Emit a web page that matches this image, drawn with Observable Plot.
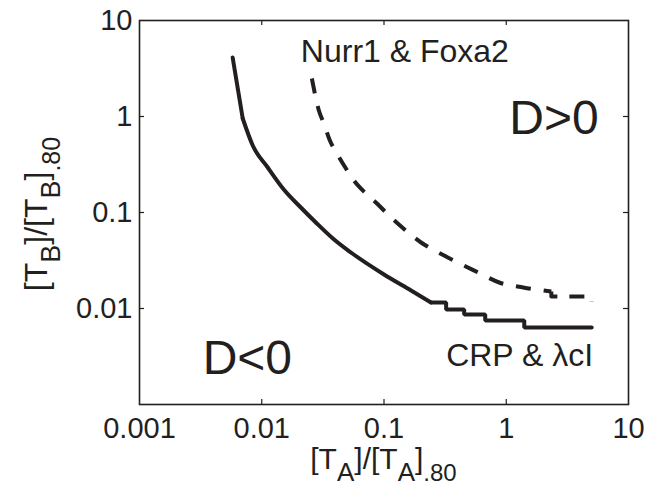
<!DOCTYPE html>
<html><head><meta charset="utf-8">
<script src="https://cdn.jsdelivr.net/npm/d3@7"></script>
<script src="https://cdn.jsdelivr.net/npm/@observablehq/plot@0.6"></script>
<style>html,body{margin:0;padding:0;background:#fff}#chart{width:657px;height:488px}</style>
</head><body><div id="chart"></div>
<script>
// ---- data ----
const xTicks = [0.001, 0.01, 0.1, 1, 10];
const yTicks = [10, 1, 0.1, 0.01];
const innerXTicks = [0.01, 0.1, 1];
const innerYTicks = [1, 0.1, 0.01];

// solid curve: CRP & λcI
const crpX = [0.00578, 0.00699, 0.00844, 0.0112, 0.01515, 0.02088, 0.02771, 0.03819, 0.05363, 0.1, 0.1665, 0.2427, 0.3223, 0.3223, 0.4526, 0.4526, 0.6729, 0.6729, 1.404, 1.404, 5.0];
const crpY = [4.118, 0.953, 0.4988, 0.2942, 0.1736, 0.1127, 0.0787, 0.0536, 0.0383, 0.0226, 0.0154, 0.01155, 0.01155, 0.00976, 0.00976, 0.00866, 0.00866, 0.0075, 0.0075, 0.00634, 0.00634];

// dashed curve: Nurr1 & Foxa2
const nurrX = [0.0257, 0.02933, 0.03223, 0.03609, 0.04119, 0.04882, 0.05677, 0.0712, 0.08762, 0.1099, 0.1352, 0.201, 0.3103, 0.5896, 0.8762, 1.378, 2.338, 2.338, 5.0, 5.0];
const nurrY = [2.488, 1.155, 0.8455, 0.5623, 0.4117, 0.2873, 0.2154, 0.1577, 0.1241, 0.093, 0.0732, 0.0487, 0.0356, 0.0237, 0.01866, 0.01655, 0.01503, 0.01334, 0.01334, 0.01183];

// annotations
const labelText = ["Nurr1 & Foxa2", "D>0", "D<0", "CRP & λcI"];
const labelX = [0.02088, 1.058, 0.003284, 0.3223];
const labelY = [3.74, 0.665, 0.002054, 0.002548];
const labelSize = [32, 48, 48, 32];

// ---- build ----
const W = 657, H = 488, mL = 139, mR = 29, mT = 20, mB = 84;
const plotW = W - mL - mR, plotH = H - mT - mB;
const ink = "#231f20";
const crp = crpX.map((x, i) => ({x, y: crpY[i]}));
const nurr = nurrX.map((x, i) => ({x, y: nurrY[i]}));
const labels = labelText.map((t, i) => ({t, x: labelX[i], y: labelY[i], s: labelSize[i]}));
// the solid curve: straight top segment, smooth middle, stair-stepped tail
const crpTop = crp.slice(0, 2), crpMid = crp.slice(1, 12), crpTail = crp.slice(11);
const nurrSmooth = nurr.slice(0, 17), nurrTail = nurr.slice(16);

const plot = Plot.plot({
  width: W, height: H,
  marginLeft: mL, marginRight: mR, marginTop: mT, marginBottom: mB,
  style: {fontFamily: "'Liberation Sans', Arial, Helvetica, sans-serif", background: "#fff", color: ink, overflow: "visible"},
  x: {type: "log", domain: [0.001, 10]},
  y: {type: "log", domain: [0.001, 10]},
  marks: [
    Plot.tickX(innerXTicks, {x: d => d, insetTop: plotH - 5, stroke: ink, strokeWidth: 1.2}),
    Plot.tickX(innerXTicks, {x: d => d, insetBottom: plotH - 5, stroke: ink, strokeWidth: 1.2}),
    Plot.tickY(innerYTicks, {y: d => d, insetRight: plotW - 5, stroke: ink, strokeWidth: 1.2}),
    Plot.tickY(innerYTicks, {y: d => d, insetLeft: plotW - 5, stroke: ink, strokeWidth: 1.2}),
    Plot.axisX({ticks: xTicks, tickSize: 0, tickPadding: 13, fontSize: 29, tickFormat: d => String(d), label: null}),
    Plot.axisY({ticks: yTicks, tickSize: 0, tickPadding: 7, fontSize: 29, tickFormat: d => String(d), label: null}),
    Plot.line(crpTop, {x: "x", y: "y", stroke: ink, strokeWidth: 4, strokeLinecap: "round"}),
    Plot.line(crpMid, {x: "x", y: "y", stroke: ink, strokeWidth: 4, curve: "monotone-x", strokeLinecap: "round"}),
    Plot.line(crpTail, {x: "x", y: "y", stroke: ink, strokeWidth: 4, strokeLinejoin: "miter"}),
    Plot.line(nurrSmooth, {x: "x", y: "y", stroke: ink, strokeWidth: 4, curve: "monotone-x", strokeDasharray: "15,13", strokeLinecap: "butt"}),
    Plot.line(nurrTail, {x: "x", y: "y", stroke: ink, strokeWidth: 4, strokeDasharray: "15,12", strokeDashoffset: 4, strokeLinecap: "butt"}),
    Plot.text(labels, {x: "x", y: "y", text: "t", fontSize: "s", textAnchor: "start", lineAnchor: "bottom", fill: ink}),
    Plot.frame({stroke: ink, strokeWidth: 1.6})
  ]
});
document.getElementById("chart").appendChild(plot);

// axis titles with subscripts
const svg = d3.select(plot);
const xl = svg.append("text")
  .attr("x", mL + plotW / 2).attr("y", 469)
  .attr("text-anchor", "middle").attr("font-size", 30).attr("fill", ink)
  .attr("font-family", "'Liberation Sans', Arial, sans-serif");
xl.append("tspan").text("[T");
xl.append("tspan").attr("font-size", 26).attr("dy", 12).text("A");
xl.append("tspan").attr("dy", -12).text("]/[T");
xl.append("tspan").attr("font-size", 26).attr("dy", 12).text("A");
xl.append("tspan").attr("dy", -12).text("]");
xl.append("tspan").attr("font-size", 24).attr("dy", 12).text(".80");

const yl = svg.append("text")
  .attr("transform", `translate(47,${mT + plotH / 2 + 2}) rotate(-90)`)
  .attr("text-anchor", "middle").attr("font-size", 32).attr("fill", ink)
  .attr("font-family", "'Liberation Sans', Arial, sans-serif");
yl.append("tspan").text("[T");
yl.append("tspan").attr("font-size", 27).attr("dy", 13).text("B");
yl.append("tspan").attr("dy", -13).text("]/[T");
yl.append("tspan").attr("font-size", 27).attr("dy", 13).text("B");
yl.append("tspan").attr("dy", -13).text("]");
yl.append("tspan").attr("font-size", 25).attr("dy", 13).text(".80");
</script>
</body></html>
